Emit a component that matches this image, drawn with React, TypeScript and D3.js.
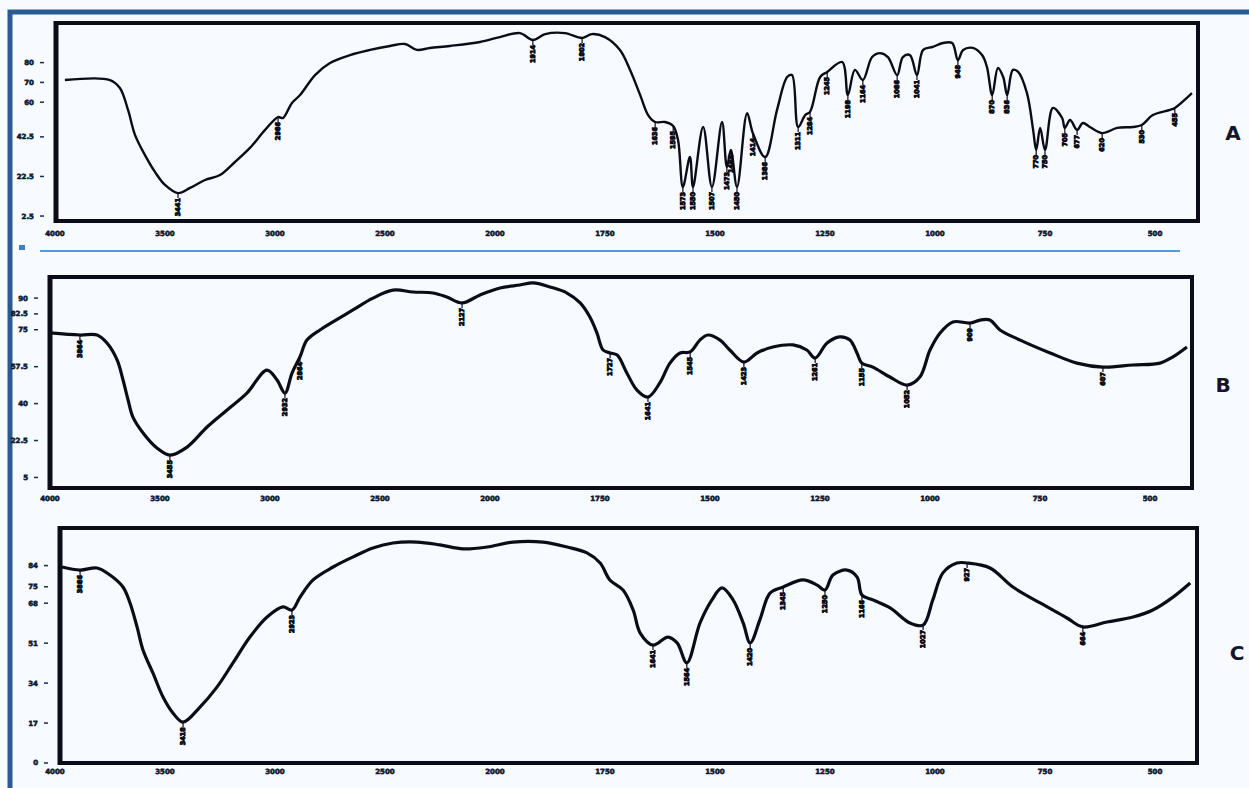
import React, { useRef, useEffect } from 'react';
import * as d3 from 'd3';

// FTIR spectra, wavenumber (1/cm) vs %T, three samples A, B, C
const xTickValues = [4000, 3500, 3000, 2500, 2000, 1750, 1500, 1250, 1000, 750, 500];

const wnA = [3955, 3750, 3705, 3668, 3636, 3591, 3545, 3500, 3441, 3386, 3318, 3250, 3182, 3114, 3045, 2986, 2964, 2923, 2886, 2818, 2750, 2659, 2568, 2477, 2409, 2355, 2296, 2205, 2068, 1989, 1943, 1914, 1886, 1841, 1802, 1780, 1750, 1716, 1693, 1670, 1652, 1636, 1614, 1595, 1584, 1573, 1557, 1550, 1527, 1507, 1484, 1473, 1464, 1450, 1427, 1414, 1386, 1359, 1336, 1325, 1311, 1295, 1284, 1261, 1245, 1211, 1198, 1182, 1164, 1143, 1125, 1107, 1086, 1073, 1057, 1041, 1027, 1005, 982, 961, 948, 936, 914, 893, 882, 870, 857, 845, 836, 823, 811, 791, 777, 770, 761, 750, 732, 711, 705, 693, 677, 664, 648, 620, 586, 550, 530, 505, 466, 455, 416];
const tA = [71.2, 71.2, 67.2, 56.1, 43.4, 33.3, 24.7, 18.2, 14.1, 16.7, 20.7, 23.2, 29.8, 36.9, 46.0, 52.5, 52.0, 59.6, 63.6, 73.7, 79.8, 83.8, 86.4, 88.4, 89.4, 86.4, 87.4, 88.4, 90.4, 92.9, 94.9, 91.4, 94.4, 94.9, 92.4, 94.4, 92.9, 86.4, 76.3, 63.6, 53.5, 50.0, 50.0, 48.0, 40.9, 17.2, 32.3, 17.2, 47.5, 17.2, 50.0, 27.3, 35.9, 17.2, 54.5, 44.4, 32.3, 56.1, 72.7, 73.7, 47.5, 53.5, 55.1, 72.7, 75.3, 80.3, 63.6, 76.3, 71.2, 82.8, 84.8, 82.8, 73.7, 82.8, 83.8, 73.7, 86.4, 87.9, 89.9, 89.9, 81.3, 86.4, 87.4, 83.8, 77.8, 63.6, 77.3, 72.7, 63.6, 76.3, 75.3, 64.6, 46.0, 35.9, 47.0, 35.9, 57.1, 52.0, 47.0, 51.0, 46.0, 49.5, 47.5, 44.4, 47.0, 47.5, 48.5, 53.5, 56.1, 57.1, 64.6];
const peaksA = [3441, 2986, 1914, 1802, 1636, 1595, 1573, 1550, 1507, 1473, 1464, 1450, 1414, 1386, 1311, 1284, 1245, 1198, 1164, 1086, 1041, 948, 870, 836, 770, 750, 705, 677, 620, 530, 455];
const yTicksA = [2.5, 22.5, 42.5, 60, 70, 80];

const wnB = [4000, 3864, 3786, 3741, 3695, 3668, 3645, 3623, 3577, 3514, 3455, 3377, 3286, 3195, 3105, 3014, 2968, 2932, 2900, 2864, 2832, 2773, 2714, 2623, 2532, 2441, 2350, 2259, 2196, 2127, 2045, 1977, 1932, 1902, 1864, 1825, 1795, 1773, 1757, 1743, 1727, 1711, 1689, 1666, 1641, 1614, 1591, 1568, 1545, 1523, 1505, 1477, 1455, 1423, 1393, 1357, 1311, 1280, 1261, 1234, 1205, 1182, 1166, 1155, 1130, 1091, 1052, 1023, 1000, 977, 948, 909, 886, 864, 841, 795, 727, 666, 607, 539, 477, 448, 416];
const tB = [73.5, 72.5, 72.5, 68.7, 60.7, 51.2, 41.7, 33.6, 26.1, 19.0, 15.6, 19.4, 28.9, 37.0, 45.0, 55.9, 51.2, 45.0, 54.5, 62.1, 70.1, 74.9, 78.7, 84.4, 90.0, 93.8, 92.9, 92.4, 90.5, 87.7, 91.5, 94.8, 96.2, 97.2, 95.3, 92.4, 87.7, 81.0, 73.5, 65.4, 64.0, 63.0, 54.5, 46.4, 43.1, 49.8, 59.2, 64.0, 64.5, 70.1, 72.5, 70.1, 65.4, 59.7, 64.0, 66.8, 67.8, 65.4, 61.6, 68.7, 71.6, 70.1, 64.0, 59.2, 57.3, 52.6, 48.8, 52.6, 65.4, 73.5, 78.7, 78.2, 79.6, 79.6, 74.9, 70.1, 64.0, 59.2, 57.3, 58.3, 59.2, 62.1, 66.8];
const peaksB = [3864, 3455, 2932, 2864, 2127, 1727, 1641, 1545, 1423, 1261, 1155, 1052, 909, 607];
const yTicksB = [5, 22.5, 40, 57.5, 75, 82.5, 90];

const wnC = [3968, 3886, 3809, 3750, 3691, 3659, 3627, 3600, 3555, 3509, 3464, 3418, 3341, 3264, 3191, 3114, 3036, 2964, 2923, 2886, 2827, 2736, 2645, 2555, 2464, 2355, 2250, 2145, 2036, 1959, 1891, 1836, 1791, 1761, 1739, 1709, 1686, 1670, 1641, 1607, 1586, 1564, 1534, 1507, 1484, 1459, 1436, 1420, 1398, 1375, 1345, 1300, 1268, 1250, 1232, 1200, 1177, 1166, 1141, 1102, 1057, 1027, 1005, 982, 950, 927, 875, 823, 761, 700, 664, 609, 550, 505, 459, 420];
const tC = [83.4, 82.1, 83.0, 80.0, 74.9, 68.1, 57.9, 48.1, 38.3, 28.1, 21.3, 17.4, 23.8, 32.3, 42.6, 53.6, 62.1, 66.4, 65.1, 70.6, 77.9, 83.4, 87.7, 91.5, 93.6, 94.0, 92.8, 91.1, 91.9, 94.0, 94.0, 91.9, 89.4, 85.1, 77.9, 73.6, 65.1, 55.3, 50.2, 53.6, 51.1, 42.6, 59.6, 69.4, 74.5, 69.4, 59.6, 51.1, 60.9, 72.3, 74.9, 77.9, 75.7, 73.6, 80.0, 82.1, 79.1, 71.5, 69.4, 66.0, 59.6, 58.7, 69.4, 80.9, 85.1, 85.1, 83.0, 74.9, 68.1, 61.7, 57.9, 60.0, 62.1, 65.1, 70.6, 76.6];
const peaksC = [3886, 3418, 2923, 1641, 1564, 1420, 1345, 1250, 1166, 1027, 927, 664];
const yTicksC = [0, 17, 34, 51, 68, 75, 84];

const panelNames = ['A', 'B', 'C'];

// layout of the three boxes
const layout = [
    { x0: 55, u: 110, top: 23, bottom: 221, frameLeft: 56, frameRight: 1198, sw: 2.4, nameX: 1233, nameY: 133, tickY: 234 },
    { x0: 50, u: 110, top: 277, bottom: 488, frameLeft: 50, frameRight: 1192, sw: 3.2, nameX: 1223, nameY: 385, tickY: 499 },
    { x0: 55, u: 110, top: 528, bottom: 763, frameLeft: 60, frameRight: 1197, sw: 3.2, nameX: 1237, nameY: 653, tickY: 772 },
];

const series = [
    { wn: wnA, t: tA, peaks: peaksA, yTicks: yTicksA },
    { wn: wnB, t: tB, peaks: peaksB, yTicks: yTicksB },
    { wn: wnC, t: tC, peaks: peaksC, yTicks: yTicksC },
];

const W = 1249;
const H = 788;
const ink = '#0c0c18';

const App = () => {
    const ref = useRef<SVGSVGElement>(null);

    useEffect(() => {
        document.body.style.margin = '0';
        const svg = d3.select(ref.current);
        svg.selectAll('*').remove();

        svg.append('rect').attr('width', W).attr('height', H).attr('fill', '#f7fbff');

        // outer blue frame of the figure
        svg.append('rect')
            .attr('x', 10).attr('y', 12)
            .attr('width', 1300).attr('height', 900)
            .attr('fill', 'none')
            .attr('stroke', '#2b5a93')
            .attr('stroke-width', 5);

        // thin separator under A
        svg.append('line')
            .attr('x1', 40).attr('x2', 1180)
            .attr('y1', 251).attr('y2', 251)
            .attr('stroke', '#5a98d6').attr('stroke-width', 2);
        svg.append('rect').attr('x', 19).attr('y', 245).attr('width', 6).attr('height', 5).attr('fill', '#3f7fc8');

        series.forEach((s, k) => {
            const p = layout[k];
            const x = d3.scaleLinear()
                .domain([4000, 2000, 400])
                .range([p.x0, p.x0 + 4 * p.u, p.x0 + 10.4 * p.u]);
            const y = d3.scaleLinear().domain([0, 100]).range([p.bottom, p.top]);
            const g = svg.append('g').attr('font-family', 'DejaVu Sans, sans-serif');

            // box
            g.append('rect')
                .attr('x', p.frameLeft).attr('y', p.top)
                .attr('width', p.frameRight - p.frameLeft)
                .attr('height', p.bottom - p.top)
                .attr('fill', 'none')
                .attr('stroke', ink)
                .attr('stroke-width', 4);
            g.append('line')
                .attr('x1', p.frameLeft).attr('x2', p.frameLeft)
                .attr('y1', p.top - 2).attr('y2', p.bottom + 2)
                .attr('stroke', ink).attr('stroke-width', 5);

            // y ticks (%T)
            s.yTicks.forEach(v => {
                g.append('line')
                    .attr('x1', p.frameLeft - 16).attr('x2', p.frameLeft - 12)
                    .attr('y1', y(v)).attr('y2', y(v))
                    .attr('stroke', '#1a2a5a').attr('stroke-width', 1.5);
                g.append('text')
                    .attr('x', p.frameLeft - 22).attr('y', y(v))
                    .attr('dy', '0.35em')
                    .attr('text-anchor', 'end')
                    .attr('font-size', 7)
                    .attr('font-weight', 'bold')
                    .attr('fill', '#101830')
                    .attr('stroke', '#101830').attr('stroke-width', 0.6)
                    .text(v);
            });

            // x ticks (1/cm)
            xTickValues.forEach(v => {
                g.append('text')
                    .attr('x', x(v)).attr('y', p.tickY)
                    .attr('dy', '0.35em')
                    .attr('text-anchor', 'middle')
                    .attr('font-size', 7)
                    .attr('font-weight', 'bold')
                    .attr('fill', '#101830')
                    .attr('stroke', '#101830').attr('stroke-width', 0.6)
                    .text(v);
            });

            const pts: [number, number][] = s.wn.map((w, i) => [w, s.t[i]]);
            const line = d3.line<[number, number]>()
                .x(d => x(d[0]))
                .y(d => y(d[1]))
                .curve(d3.curveCatmullRom.alpha(0.5));

            g.append('path')
                .datum(pts)
                .attr('fill', 'none')
                .attr('stroke', ink)
                .attr('stroke-width', p.sw)
                .attr('stroke-linejoin', 'round')
                .attr('d', line);

            // peak labels hanging under the bands
            s.peaks.forEach(pk => {
                const i = d3.minIndex(s.wn, w => Math.abs(w - pk));
                const px = x(s.wn[i]);
                const py = y(s.t[i]);
                g.append('line')
                    .attr('x1', px).attr('x2', px)
                    .attr('y1', py).attr('y2', py + 5)
                    .attr('stroke', ink).attr('stroke-width', 1.2);
                g.append('text')
                    .attr('transform', `translate(${px},${py + 5}) rotate(-90)`)
                    .attr('text-anchor', 'end')
                    .attr('dy', '0.35em')
                    .attr('font-size', 6.5)
                    .attr('font-weight', 'bold')
                    .attr('fill', ink)
                    .attr('stroke', ink).attr('stroke-width', 0.9)
                    .text(pk);
            });

            g.append('text')
                .attr('x', p.nameX).attr('y', p.nameY)
                .attr('dy', '0.35em')
                .attr('text-anchor', 'middle')
                .attr('font-size', 20)
                .attr('font-weight', 'bold')
                .attr('fill', '#15152a')
                .text(panelNames[k]);
        });
    }, []);

    return <svg ref={ref} width={W} height={H} style={{ display: 'block' }}></svg>;
};

export default App;
